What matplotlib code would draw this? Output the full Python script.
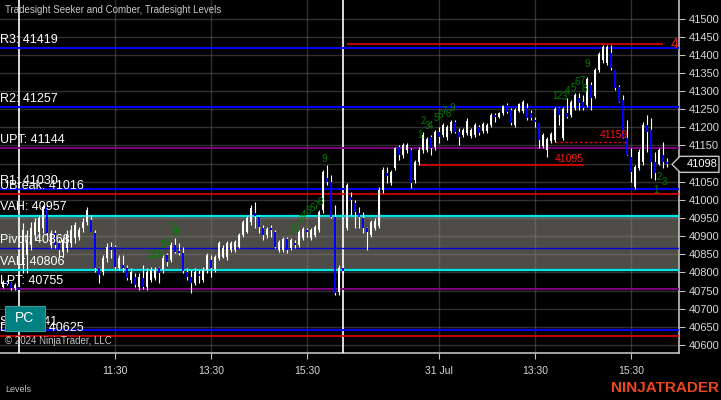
import matplotlib
matplotlib.use('Agg')
import matplotlib.pyplot as plt
from matplotlib.patches import Polygon, Rectangle
from matplotlib.transforms import IdentityTransform

plt.rcParams['font.family'] = ['Liberation Sans', 'DejaVu Sans']

# 5 minute bars, index 0..166 (prev day tail, 30 Jul, 31 Jul)
opens = [40760, 40775, 40771, 40757, 40760, 40821, 40848, 40876, 40903, 40912,
         40923, 40980, 40876, 40909, 40881, 40856, 40868, 40881, 40895, 40898,
         40923, 40939, 40945, 40909, 40812, 40801, 40840, 40870, 40870, 40812,
         40820, 40812, 40779, 40788, 40760, 40785, 40760, 40779, 40785, 40812,
         40807, 40848, 40834, 40876, 40859, 40854, 40801, 40788, 40771, 40796,
         40779, 40807, 40834, 40807, 40840, 40843, 40843, 40862, 40862, 40870,
         40903, 40912, 40939, 40964, 40953, 40923, 40903, 40923, 40912, 40862,
         40862, 40892, 40868, 40881, 40876, 40895, 40917, 40895, 40903, 40917,
         40972, 41060, 41049, 40953, 40746, 40812, 40923, 41008, 40991, 40964,
         40950, 40923, 40903, 40923, 40928, 41027, 41074, 41047, 41088, 41146,
         41124, 41138, 41138, 41055, 41104, 41138, 41138, 41173, 41146, 41187,
         41179, 41173, 41190, 41215, 41187, 41179, 41184, 41176, 41179, 41201,
         41190, 41190, 41206, 41234, 41229, 41240, 41262, 41248, 41206, 41245,
         41245, 41253, 41240, 41220, 41212, 41148, 41138, 41162, 41165, 41253,
         41171, 41240, 41234, 41253, 41281, 41270, 41262, 41317, 41286, 41358,
         41386, 41377, 41405, 41358, 41311, 41275, 41171, 41118, 41036, 41088,
         41104, 41206, 41193, 41104, 41099, 41124, 41104]
highs = [40779, 40780, 40775, 40770, 40766, 40936, 40917, 40939, 40950, 40958,
         40986, 40986, 40917, 40917, 40890, 40898, 40917, 40931, 40939, 40925,
         40950, 40980, 40958, 40917, 40815, 40848, 40881, 40884, 40876, 40848,
         40848, 40821, 40812, 40799, 40799, 40821, 40812, 40815, 40815, 40815,
         40848, 40854, 40884, 40895, 40881, 40870, 40812, 40807, 40812, 40807,
         40815, 40854, 40848, 40848, 40887, 40876, 40887, 40887, 40890, 40909,
         40945, 40956, 40986, 40994, 40958, 40931, 40925, 40931, 40917, 40890,
         40898, 40898, 40895, 40890, 40917, 40925, 40923, 40923, 40931, 40972,
         41082, 41096, 41069, 40986, 40821, 40821, 41047, 41022, 41000, 40980,
         40967, 40925, 40945, 40950, 41036, 41091, 41091, 41082, 41146, 41151,
         41157, 41157, 41143, 41110, 41146, 41187, 41173, 41179, 41193, 41201,
         41212, 41206, 41220, 41220, 41198, 41198, 41226, 41198, 41212, 41206,
         41215, 41212, 41240, 41240, 41242, 41262, 41267, 41253, 41253, 41267,
         41275, 41267, 41248, 41229, 41212, 41184, 41173, 41187, 41256, 41256,
         41256, 41281, 41275, 41295, 41295, 41289, 41339, 41325, 41364, 41408,
         41427, 41427, 41427, 41358, 41317, 41289, 41220, 41143, 41096, 41140,
         41215, 41234, 41226, 41132, 41143, 41160, 41116]
lows = [40757, 40765, 40752, 40752, 40749, 40799, 40799, 40862, 40890, 40895,
        40909, 40903, 40868, 40868, 40840, 40843, 40856, 40870, 40881, 40890,
        40912, 40931, 40923, 40801, 40771, 40793, 40829, 40840, 40807, 40807,
        40801, 40779, 40771, 40760, 40752, 40755, 40752, 40774, 40779, 40771,
        40799, 40818, 40829, 40854, 40848, 40799, 40779, 40744, 40766, 40771,
        40774, 40799, 40788, 40801, 40834, 40840, 40834, 40856, 40856, 40868,
        40898, 40909, 40931, 40923, 40909, 40890, 40895, 40898, 40868, 40856,
        40856, 40854, 40862, 40868, 40870, 40890, 40898, 40890, 40898, 40912,
        40964, 41041, 40950, 40738, 40738, 40799, 40917, 40958, 40923, 40923,
        40909, 40862, 40898, 40917, 40923, 41019, 41047, 41041, 41082, 41110,
        41116, 41129, 41033, 41047, 41096, 41129, 41132, 41124, 41138, 41157,
        41173, 41165, 41184, 41184, 41151, 41173, 41179, 41171, 41173, 41179,
        41184, 41184, 41201, 41215, 41226, 41234, 41240, 41206, 41201, 41242,
        41240, 41220, 41220, 41201, 41143, 41143, 41118, 41157, 41160, 41206,
        41165, 41226, 41229, 41248, 41248, 41248, 41256, 41248, 41281, 41353,
        41377, 41372, 41358, 41303, 41270, 41171, 41124, 41049, 41030, 41082,
        41096, 41132, 41060, 41055, 41096, 41088, 41091]
closes = [40774, 40768, 40757, 40765, 40752, 40917, 40890, 40923, 40939, 40950,
          40980, 40909, 40909, 40876, 40862, 40890, 40903, 40917, 40931, 40917,
          40939, 40972, 40912, 40812, 40793, 40840, 40870, 40862, 40815, 40840,
          40812, 40785, 40801, 40766, 40788, 40760, 40801, 40807, 40807, 40799,
          40840, 40829, 40876, 40856, 40854, 40804, 40788, 40771, 40801, 40790,
          40807, 40848, 40812, 40843, 40881, 40868, 40881, 40881, 40884, 40903,
          40939, 40950, 40978, 40956, 40925, 40903, 40920, 40917, 40870, 40884,
          40892, 40862, 40890, 40876, 40912, 40920, 40912, 40917, 40925, 40967,
          41077, 41049, 40953, 40744, 40812, 40805, 41041, 41000, 40967, 40953,
          40923, 40912, 40939, 40942, 41027, 41082, 41066, 41077, 41143, 41124,
          41151, 41151, 41047, 41104, 41138, 41179, 41168, 41143, 41187, 41173,
          41206, 41201, 41215, 41187, 41173, 41193, 41218, 41193, 41206, 41184,
          41209, 41206, 41234, 41229, 41240, 41259, 41242, 41212, 41248, 41264,
          41270, 41226, 41226, 41215, 41165, 41179, 41168, 41182, 41251, 41234,
          41251, 41229, 41270, 41289, 41267, 41253, 41333, 41281, 41358, 41402,
          41421, 41421, 41364, 41308, 41270, 41171, 41124, 41077, 41091, 41132,
          41206, 41187, 41104, 41074, 41138, 41104, 41098]

# levels: (label, price, colour, width)
levels = [("R3: 41419", 41419, "#0000ff", 1.4),
          ("R2: 41257", 41257, "#0000ff", 1.4),
          ("UPT: 41144", 41144, "#800080", 1.4),
          ("UBreak: 41016", 41016, "#e00000", 1.2),
          ("R1: 41030", 41030, "#0000ff", 1.4),
          ("VAH: 40957", 40957, "#00e5e5", 1.6),
          ("Pivot: 40868", 40868, "#0000dd", 1.0),
          ("VAL: 40806", 40806, "#00e5e5", 1.6),
          ("LPT: 40755", 40755, "#800080", 1.4),
          ("DBreak: 40625", 40625, "#e00000", 1.2),
          ("S1: 40641", 40641, "#0000ff", 1.4)]
value_area = (40806, 40957)

tick_pos = [28, 52, 76, 109, 133, 157]
tick_lbl = ["11:30", "13:30", "15:30", "31 Jul", "13:30", "15:30"]
session_breaks = [4.1, 85]

# seeker / comber counts: (text, bar, price)
counts = [("1", 36.5, 40848), ("2", 37.5, 40848), ("3", 38.5, 40848), ("4", 39.5, 40848),
          ("5", 40.0, 40876), ("6", 40.75, 40881), ("7", 42.0, 40923), ("8", 43.0, 40909),
          ("9", 43.3, 40914),
          ("1", 72.25, 40917), ("2", 73.25, 40923), ("3", 74.25, 40945), ("4", 75.25, 40958),
          ("5", 76.25, 40969), ("6", 77.25, 40978), ("7", 78.25, 40983), ("8", 79.25, 40994),
          ("9", 80.25, 41113),
          ("1", 104.25, 41179), ("2", 105.0, 41218), ("3", 106.0, 41204), ("4", 107.0, 41204),
          ("5", 108.25, 41226), ("6", 109.25, 41234), ("7", 110.25, 41245), ("8", 111.25, 41237),
          ("9", 112.25, 41253),
          ("1", 138.0, 41286), ("2", 139.0, 41286), ("3", 140.25, 41284), ("4", 141.25, 41300),
          ("5", 142.5, 41308), ("6", 143.5, 41325), ("7", 144.75, 41328), ("8", 145.25, 41306),
          ("9", 146.0, 41375),
          ("1", 163.25, 41027), ("2", 164.0, 41063), ("3", 165.25, 41049)]

fig = plt.figure(figsize=(7.21, 4.0), dpi=100, facecolor='black')
ax = fig.add_axes([0, 0.1175, 0.9417, 0.8825], facecolor='black')
ax.set_xlim(-0.75, 169)
ax.set_ylim(40578, 41551)

# value area
ax.axhspan(value_area[0], value_area[1], color='#4e4c46', zorder=1)

# grid
for p in range(40600, 41501, 50):
    ax.axhline(p, color='#8a8a8a', alpha=0.35, lw=1, zorder=2)
for t in tick_pos:
    ax.axvline(t, color='#8a8a8a', alpha=0.35, lw=1, zorder=2)

for b in session_breaks:
    ax.axvline(b, color='white', lw=1.2, zorder=3)

for lbl, p, c, w in levels:
    ax.axhline(p, color=c, lw=w, zorder=3)
    ax.annotate(lbl, xy=(0, p), xycoords=('axes fraction', 'data'), xytext=(0, 1.5),
                textcoords='offset points', ha='left', va='bottom', color='white',
                fontsize=9, zorder=8)

# candles
idx = list(range(len(opens)))
for i in idx:
    o, h, l, c = opens[i], highs[i], lows[i], closes[i]
    col = 'white' if c >= o else '#0000ff'
    ax.vlines(i, l, h, color='white', lw=0.8, zorder=5)
    lo, hi = min(o, c), max(o, c)
    if hi - lo < 2:
        hi = lo + 2
    ax.bar(i, hi - lo, bottom=lo, width=0.55, color=col, lw=0, zorder=6)

# drawn lines
ax.hlines(41430, 86, 165, color='#e00000', lw=1.2, zorder=4)
ax.text(167, 41430, "4", color='#e02020', fontsize=10, ha='left', va='center', zorder=8)
ax.hlines(41095, 104.25, 145.25, color='#e00000', lw=1.2, zorder=4)
ax.text(145.25, 41100, "41095", color='#ff1010', fontsize=7.5, ha='right', va='bottom', zorder=8)
ax.hlines(41159, 138, 156.25, color='#e00000', lw=1.0, linestyles=(0, (2, 1.5)), zorder=4)
ax.text(156.25, 41164, "41159", color='#ff1010', fontsize=7.5, ha='right', va='bottom', zorder=8)

for t, k, p in counts:
    ax.text(k, p, t, color='#008000', fontsize=7, ha='center', va='center', zorder=7)

# axes styling
last = closes[-1]
for s in ['top', 'left']:
    ax.spines[s].set_visible(False)
for s in ['right', 'bottom']:
    ax.spines[s].set_color('#c0c0c0')
    ax.spines[s].set_linewidth(1.2)
ax.yaxis.tick_right()
yt = list(range(40600, 41501, 50))
ax.set_yticks(yt)
# the label nearest the last price is hidden behind the price marker
ax.set_yticklabels(['' if abs(v - last) < 25 else str(v) for v in yt])
ax.tick_params(axis='y', colors='#c0c0c0', labelcolor='#d8d8d8', labelsize=8,
               length=4, pad=3)
ax.set_xticks(tick_pos)
ax.set_xticklabels(tick_lbl)
ax.tick_params(axis='x', colors='#c0c0c0', labelcolor='#d8d8d8', labelsize=7.5,
               length=4, pad=5)

# last price marker
fig.canvas.draw()
yd = ax.transData.transform((0, last))[1]
pts = [(672, yd), (680, yd + 8), (719, yd + 8), (719, yd - 8), (680, yd - 8)]
fig.patches.append(Polygon(pts, closed=True, facecolor='black', edgecolor='#c8c8c8',
                           lw=1, transform=IdentityTransform(), zorder=10))
fig.text(687 / 721, yd / 400, f"{last}", color='white', fontsize=8, ha='left',
         va='center', zorder=11)

# texts / overlays
fig.text(5 / 721, 1 - 10 / 400, "Tradesight Seeker and Comber, Tradesight Levels",
         color='#c8c8c8', fontsize=7, ha='left', va='center')
fig.text(5 / 721, 1 - 341 / 400, "\u00a9 2024 NinjaTrader, LLC", color='#c8c8c8',
         fontsize=7, ha='left', va='center')
fig.patches.append(Rectangle((5 / 721, 1 - 331 / 400), 40 / 721, 25 / 400,
                             transform=fig.transFigure, facecolor='#008080',
                             edgecolor='#30a0a0', lw=0.8, zorder=10))
fig.text(25 / 721, 1 - 318.5 / 400, "PC", color='white', fontsize=10, ha='center',
         va='center', zorder=11)
fig.text(5 / 721, 1 - 390 / 400, "Levels", color='#c0c0c0', fontsize=6.5,
         ha='left', va='center')
fig.text(719 / 721, 1 - 388 / 400, "NINJATRADER", color='#e8481c', fontsize=11,
         fontweight='bold', ha='right', va='center')

fig.savefig('out.png', dpi=100, facecolor='black')
